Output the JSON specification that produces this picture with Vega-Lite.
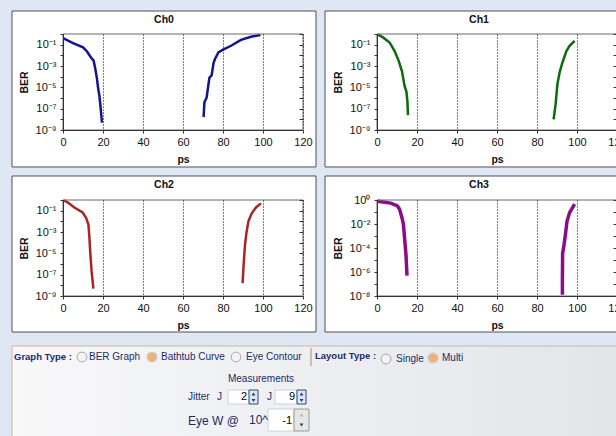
{
  "$schema": "https://vega.github.io/schema/vega-lite/v6.json",
  "background": "#dee7f3",
  "padding": {"left": 11, "top": 10, "right": 0, "bottom": 0},
  "datasets": {
    "curves": [
      {"ch":"Ch0","side":"L","i":1,"ps":0.3,"ber":0.39},
      {"ch":"Ch0","side":"L","i":2,"ps":5,"ber":0.14},
      {"ch":"Ch0","side":"L","i":3,"ps":10,"ber":0.056},
      {"ch":"Ch0","side":"L","i":4,"ps":12,"ber":0.023},
      {"ch":"Ch0","side":"L","i":5,"ps":14,"ber":0.0063},
      {"ch":"Ch0","side":"L","i":6,"ps":15.3,"ber":0.0032},
      {"ch":"Ch0","side":"L","i":7,"ps":16.2,"ber":0.0005},
      {"ch":"Ch0","side":"L","i":8,"ps":17,"ber":6.3e-5},
      {"ch":"Ch0","side":"L","i":9,"ps":17.5,"ber":1e-5},
      {"ch":"Ch0","side":"L","i":10,"ps":18.2,"ber":1.6e-6},
      {"ch":"Ch0","side":"L","i":11,"ps":18.8,"ber":1.3e-7},
      {"ch":"Ch0","side":"L","i":12,"ps":19.5,"ber":5e-9},
      {"ch":"Ch0","side":"R","i":1,"ps":70.3,"ber":1.6e-8},
      {"ch":"Ch0","side":"R","i":2,"ps":70.7,"ber":4e-7},
      {"ch":"Ch0","side":"R","i":3,"ps":71.8,"ber":1.1e-6},
      {"ch":"Ch0","side":"R","i":4,"ps":73.2,"ber":7.9e-5},
      {"ch":"Ch0","side":"R","i":5,"ps":74.3,"ber":0.00013},
      {"ch":"Ch0","side":"R","i":6,"ps":75.3,"ber":0.002},
      {"ch":"Ch0","side":"R","i":7,"ps":76,"ber":0.0045},
      {"ch":"Ch0","side":"R","i":8,"ps":77.7,"ber":0.019},
      {"ch":"Ch0","side":"R","i":9,"ps":79.8,"ber":0.032},
      {"ch":"Ch0","side":"R","i":10,"ps":84,"ber":0.079},
      {"ch":"Ch0","side":"R","i":11,"ps":89,"ber":0.28},
      {"ch":"Ch0","side":"R","i":12,"ps":94,"ber":0.56},
      {"ch":"Ch0","side":"R","i":13,"ps":98.7,"ber":0.79},
      {"ch":"Ch1","side":"L","i":1,"ps":0.5,"ber":0.87},
      {"ch":"Ch1","side":"L","i":2,"ps":3,"ber":0.48},
      {"ch":"Ch1","side":"L","i":3,"ps":6.3,"ber":0.16},
      {"ch":"Ch1","side":"L","i":4,"ps":8.8,"ber":0.025},
      {"ch":"Ch1","side":"L","i":5,"ps":10.8,"ber":0.0032},
      {"ch":"Ch1","side":"L","i":6,"ps":12.5,"ber":0.00032},
      {"ch":"Ch1","side":"L","i":7,"ps":13.8,"ber":1.3e-5},
      {"ch":"Ch1","side":"L","i":8,"ps":14.7,"ber":4e-6},
      {"ch":"Ch1","side":"L","i":9,"ps":15.2,"ber":5e-7},
      {"ch":"Ch1","side":"L","i":10,"ps":15.5,"ber":2.5e-8},
      {"ch":"Ch1","side":"R","i":1,"ps":88.3,"ber":1e-8},
      {"ch":"Ch1","side":"R","i":2,"ps":89.3,"ber":2.5e-7},
      {"ch":"Ch1","side":"R","i":3,"ps":90.2,"ber":2e-5},
      {"ch":"Ch1","side":"R","i":4,"ps":91.3,"ber":0.00025},
      {"ch":"Ch1","side":"R","i":5,"ps":92.5,"ber":0.0016},
      {"ch":"Ch1","side":"R","i":6,"ps":94.7,"ber":0.025},
      {"ch":"Ch1","side":"R","i":7,"ps":96.3,"ber":0.079},
      {"ch":"Ch1","side":"R","i":8,"ps":98.8,"ber":0.23},
      {"ch":"Ch2","side":"L","i":1,"ps":0.3,"ber":0.95},
      {"ch":"Ch2","side":"L","i":2,"ps":2.3,"ber":0.6},
      {"ch":"Ch2","side":"L","i":3,"ps":5.7,"ber":0.2},
      {"ch":"Ch2","side":"L","i":4,"ps":9.8,"ber":0.068},
      {"ch":"Ch2","side":"L","i":5,"ps":11.5,"ber":0.022},
      {"ch":"Ch2","side":"L","i":6,"ps":12.7,"ber":0.005},
      {"ch":"Ch2","side":"L","i":7,"ps":13.2,"ber":0.00032},
      {"ch":"Ch2","side":"L","i":8,"ps":13.7,"ber":7.9e-6},
      {"ch":"Ch2","side":"L","i":9,"ps":14.3,"ber":2e-7},
      {"ch":"Ch2","side":"L","i":10,"ps":15.2,"ber":5e-9},
      {"ch":"Ch2","side":"R","i":1,"ps":89.8,"ber":1.6e-8},
      {"ch":"Ch2","side":"R","i":2,"ps":90.3,"ber":7.9e-7},
      {"ch":"Ch2","side":"R","i":3,"ps":91,"ber":6.3e-5},
      {"ch":"Ch2","side":"R","i":4,"ps":91.7,"ber":0.00079},
      {"ch":"Ch2","side":"R","i":5,"ps":92.7,"ber":0.01},
      {"ch":"Ch2","side":"R","i":6,"ps":94.3,"ber":0.054},
      {"ch":"Ch2","side":"R","i":7,"ps":96.5,"ber":0.2},
      {"ch":"Ch2","side":"R","i":8,"ps":99,"ber":0.48},
      {"ch":"Ch3","side":"L","i":1,"ps":0.5,"ber":0.8},
      {"ch":"Ch3","side":"L","i":2,"ps":4.7,"ber":0.63},
      {"ch":"Ch3","side":"L","i":3,"ps":7.2,"ber":0.52},
      {"ch":"Ch3","side":"L","i":4,"ps":10.2,"ber":0.32},
      {"ch":"Ch3","side":"L","i":5,"ps":11.3,"ber":0.17},
      {"ch":"Ch3","side":"L","i":6,"ps":12.5,"ber":0.032},
      {"ch":"Ch3","side":"L","i":7,"ps":13.2,"ber":0.01},
      {"ch":"Ch3","side":"L","i":8,"ps":13.8,"ber":0.00063},
      {"ch":"Ch3","side":"L","i":9,"ps":14.5,"ber":2.5e-5},
      {"ch":"Ch3","side":"L","i":10,"ps":15,"ber":5e-7},
      {"ch":"Ch3","side":"R","i":1,"ps":92.7,"ber":1.3e-8},
      {"ch":"Ch3","side":"R","i":2,"ps":92.7,"ber":1.3e-7},
      {"ch":"Ch3","side":"R","i":3,"ps":92.8,"ber":3.5e-5},
      {"ch":"Ch3","side":"R","i":4,"ps":93.5,"ber":0.00018},
      {"ch":"Ch3","side":"R","i":5,"ps":94.2,"ber":0.0013},
      {"ch":"Ch3","side":"R","i":6,"ps":95,"ber":0.017},
      {"ch":"Ch3","side":"R","i":7,"ps":96.3,"ber":0.089},
      {"ch":"Ch3","side":"R","i":8,"ps":98.8,"ber":0.46}
    ],
    "boxes": [
      {"ch":"Ch0","ps":-25.5,"ps2":126.5,"ber":143,"ber2":3.4e-13},
      {"ch":"Ch1","ps":-26,"ps2":140,"ber":143,"ber2":3.4e-13},
      {"ch":"Ch2","ps":-25.5,"ps2":126.5,"ber":178,"ber2":4.2e-13},
      {"ch":"Ch3","ps":-26,"ps2":140,"ber":100,"ber2":1e-11}
    ],
    "frames": [
      {"ch":"Ch0","ps":0,"ps2":120,"ber":1e-9,"ber2":1},
      {"ch":"Ch1","ps":0,"ps2":120,"ber":1e-9,"ber2":1},
      {"ch":"Ch2","ps":0,"ps2":120,"ber":1e-9,"ber2":1},
      {"ch":"Ch3","ps":0,"ps2":120,"ber":1e-8,"ber2":1}
    ],
    "ui": [
      {"kind":"panel","x":11,"x2":640,"y":343,"y2":445},
      {"kind":"box","x":227,"x2":248,"y":387,"y2":401},
      {"kind":"box","x":274,"x2":296,"y":387,"y2":401},
      {"kind":"box","x":267,"x2":293,"y":406,"y2":428},
      {"kind":"spin","x":248,"x2":257,"y":387,"y2":401},
      {"kind":"spin","x":296,"x2":305,"y":387,"y2":401},
      {"kind":"spinoff","x":293,"x2":308,"y":406,"y2":428},
      {"kind":"up","x":252.5,"y":391},
      {"kind":"up","x":300.5,"y":391},
      {"kind":"down","x":252.5,"y":397.5},
      {"kind":"down","x":300.5,"y":397.5},
      {"kind":"upoff","x":300.5,"y":412},
      {"kind":"down","x":300.5,"y":422},
      {"kind":"sep","x":310,"y":345,"y2":363},
      {"kind":"radio","x":81,"y":354},
      {"kind":"radio","x":235,"y":354},
      {"kind":"radio","x":385,"y":356},
      {"kind":"radioon","x":151,"y":354},
      {"kind":"radioon","x":432,"y":355},
      {"kind":"bold","x":13,"y":354,"text":"Graph Type :"},
      {"kind":"bold","x":314,"y":353,"text":"Layout Type :"},
      {"kind":"label","x":88,"y":354,"text":"BER Graph"},
      {"kind":"label","x":160,"y":354,"text":"Bathtub Curve"},
      {"kind":"label","x":245,"y":354,"text":"Eye Contour"},
      {"kind":"label","x":395,"y":356,"text":"Single"},
      {"kind":"label","x":441,"y":355,"text":"Multi"},
      {"kind":"label","x":187,"y":394,"text":"Jitter"},
      {"kind":"label","x":216,"y":394,"text":"J"},
      {"kind":"label","x":266,"y":394,"text":"J"},
      {"kind":"center","x":260,"y":376,"text":"Measurements"},
      {"kind":"big","x":187,"y":418,"text":"Eye W @"},
      {"kind":"big","x":248,"y":417,"text":"10^"},
      {"kind":"value","x":246,"y":394,"text":"2"},
      {"kind":"value","x":294,"y":394,"text":"9"},
      {"kind":"value","x":291,"y":418,"text":"-1"}
    ]
  },
  "spacing": 12,
  "vconcat": [
    {
      "columns": 2,
      "bounds": "flush",
      "spacing": {"row": 70, "column": 74},
      "concat": [
        {
          "width": 240, "height": 96,
          "title": {"text": "Ch0", "dx": -19},
          "resolve": {"axis": {"y": "independent"}},
          "layer": [
            {"data": {"name": "boxes"}, "transform": [{"filter": "datum.ch == 'Ch0'"}],
             "mark": {"type": "rect", "fill": "#ffffff", "stroke": "#505050", "strokeWidth": 1},
             "encoding": {
               "x": {"field": "ps", "type": "quantitative", "scale": {"domain": [0, 120], "nice": false, "zero": false},
                     "axis": {"title": "ps", "zindex": 1, "values": [0,20,40,60,80,100,120], "labelOverlap": false, "grid": true, "gridDash": [1,2], "gridColor": "#000", "gridOpacity": 1, "tickSize": 3, "labelPadding": 3, "titlePadding": 7, "labelFlush": false}},
               "x2": {"field": "ps2"},
               "y": {"field": "ber", "type": "quantitative", "scale": {"type": "log", "domain": [1e-9, 1], "nice": false},
                     "axis": {"title": "BER", "zindex": 1, "values": [1e-9,1e-8,1e-7,1e-6,1e-5,1e-4,1e-3,1e-2,1e-1,1], "labelOverlap": false, "grid": false, "tickSize": 3, "labelPadding": 4, "titlePadding": 6,
                              "labelExpr": "abs(round(log(datum.value)/LN10)) % 2 == 1 ? '10' + (round(log(datum.value)/LN10) < 0 ? '⁻' : '') + ['⁰','¹','²','³','⁴','⁵','⁶','⁷','⁸','⁹'][abs(round(log(datum.value)/LN10))] : ''"}},
               "y2": {"field": "ber2"}}},
            {"data": {"name": "curves"}, "transform": [{"filter": "datum.ch == 'Ch0'"}],
             "mark": {"type": "line", "color": "#14148c", "strokeWidth": 2.5},
             "encoding": {
               "x": {"field": "ps", "type": "quantitative", "scale": {"domain": [0, 120], "nice": false, "zero": false},
                     "axis": {"title": "ps", "zindex": 1, "values": [0,20,40,60,80,100,120], "labelOverlap": false, "grid": true, "gridDash": [1,2], "gridColor": "#000", "gridOpacity": 1, "tickSize": 3, "labelPadding": 3, "titlePadding": 7, "labelFlush": false}},
               "y": {"field": "ber", "type": "quantitative", "axis": null},
               "detail": {"field": "side"}, "order": {"field": "i", "type": "quantitative"}}},
            {"data": {"name": "frames"}, "transform": [{"filter": "datum.ch == 'Ch0'"}],
             "mark": {"type": "rect", "filled": false, "stroke": "#6a6a6a", "strokeWidth": 1},
             "encoding": {
               "x": {"field": "ps", "type": "quantitative", "scale": {"domain": [0, 120], "nice": false, "zero": false},
                     "axis": {"title": "ps", "zindex": 1, "values": [0,20,40,60,80,100,120], "labelOverlap": false, "grid": true, "gridDash": [1,2], "gridColor": "#000", "gridOpacity": 1, "tickSize": 3, "labelPadding": 3, "titlePadding": 7, "labelFlush": false}},
               "x2": {"field": "ps2"},
               "y": {"field": "ber", "type": "quantitative", "axis": {"orient": "right", "zindex": 1, "title": null, "labels": false, "domain": false, "grid": false, "tickSize": -4, "values": [1e-9,1e-8,1e-7,1e-6,1e-5,1e-4,1e-3,1e-2,1e-1,1]}},
               "y2": {"field": "ber2"}}}
          ]
        },
        {
          "width": 240, "height": 96,
          "title": {"text": "Ch1", "dx": -18},
          "resolve": {"axis": {"y": "independent"}},
          "layer": [
            {"data": {"name": "boxes"}, "transform": [{"filter": "datum.ch == 'Ch1'"}],
             "mark": {"type": "rect", "fill": "#ffffff", "stroke": "#505050", "strokeWidth": 1},
             "encoding": {
               "x": {"field": "ps", "type": "quantitative", "scale": {"domain": [0, 120], "nice": false, "zero": false},
                     "axis": {"title": "ps", "zindex": 1, "values": [0,20,40,60,80,100,120], "labelOverlap": false, "grid": true, "gridDash": [1,2], "gridColor": "#000", "gridOpacity": 1, "tickSize": 3, "labelPadding": 3, "titlePadding": 7, "labelFlush": false}},
               "x2": {"field": "ps2"},
               "y": {"field": "ber", "type": "quantitative", "scale": {"type": "log", "domain": [1e-9, 1], "nice": false},
                     "axis": {"title": "BER", "zindex": 1, "values": [1e-9,1e-8,1e-7,1e-6,1e-5,1e-4,1e-3,1e-2,1e-1,1], "labelOverlap": false, "grid": false, "tickSize": 3, "labelPadding": 4, "titlePadding": 6,
                              "labelExpr": "abs(round(log(datum.value)/LN10)) % 2 == 1 ? '10' + (round(log(datum.value)/LN10) < 0 ? '⁻' : '') + ['⁰','¹','²','³','⁴','⁵','⁶','⁷','⁸','⁹'][abs(round(log(datum.value)/LN10))] : ''"}},
               "y2": {"field": "ber2"}}},
            {"data": {"name": "curves"}, "transform": [{"filter": "datum.ch == 'Ch1'"}],
             "mark": {"type": "line", "color": "#0d6b0d", "strokeWidth": 2.5},
             "encoding": {
               "x": {"field": "ps", "type": "quantitative", "scale": {"domain": [0, 120], "nice": false, "zero": false},
                     "axis": {"title": "ps", "zindex": 1, "values": [0,20,40,60,80,100,120], "labelOverlap": false, "grid": true, "gridDash": [1,2], "gridColor": "#000", "gridOpacity": 1, "tickSize": 3, "labelPadding": 3, "titlePadding": 7, "labelFlush": false}},
               "y": {"field": "ber", "type": "quantitative", "axis": null},
               "detail": {"field": "side"}, "order": {"field": "i", "type": "quantitative"}}},
            {"data": {"name": "frames"}, "transform": [{"filter": "datum.ch == 'Ch1'"}],
             "mark": {"type": "rect", "filled": false, "stroke": "#6a6a6a", "strokeWidth": 1},
             "encoding": {
               "x": {"field": "ps", "type": "quantitative", "scale": {"domain": [0, 120], "nice": false, "zero": false},
                     "axis": {"title": "ps", "zindex": 1, "values": [0,20,40,60,80,100,120], "labelOverlap": false, "grid": true, "gridDash": [1,2], "gridColor": "#000", "gridOpacity": 1, "tickSize": 3, "labelPadding": 3, "titlePadding": 7, "labelFlush": false}},
               "x2": {"field": "ps2"},
               "y": {"field": "ber", "type": "quantitative", "axis": {"orient": "right", "zindex": 1, "title": null, "labels": false, "domain": false, "grid": false, "tickSize": -4, "values": [1e-9,1e-8,1e-7,1e-6,1e-5,1e-4,1e-3,1e-2,1e-1,1]}},
               "y2": {"field": "ber2"}}}
          ]
        },
        {
          "width": 240, "height": 96,
          "title": {"text": "Ch2", "dx": -19},
          "resolve": {"axis": {"y": "independent"}},
          "layer": [
            {"data": {"name": "boxes"}, "transform": [{"filter": "datum.ch == 'Ch2'"}],
             "mark": {"type": "rect", "fill": "#ffffff", "stroke": "#505050", "strokeWidth": 1},
             "encoding": {
               "x": {"field": "ps", "type": "quantitative", "scale": {"domain": [0, 120], "nice": false, "zero": false},
                     "axis": {"title": "ps", "zindex": 1, "values": [0,20,40,60,80,100,120], "labelOverlap": false, "grid": true, "gridDash": [1,2], "gridColor": "#000", "gridOpacity": 1, "tickSize": 3, "labelPadding": 3, "titlePadding": 7, "labelFlush": false}},
               "x2": {"field": "ps2"},
               "y": {"field": "ber", "type": "quantitative", "scale": {"type": "log", "domain": [1e-9, 1], "nice": false},
                     "axis": {"title": "BER", "zindex": 1, "values": [1e-9,1e-8,1e-7,1e-6,1e-5,1e-4,1e-3,1e-2,1e-1,1], "labelOverlap": false, "grid": false, "tickSize": 3, "labelPadding": 4, "titlePadding": 6,
                              "labelExpr": "abs(round(log(datum.value)/LN10)) % 2 == 1 ? '10' + (round(log(datum.value)/LN10) < 0 ? '⁻' : '') + ['⁰','¹','²','³','⁴','⁵','⁶','⁷','⁸','⁹'][abs(round(log(datum.value)/LN10))] : ''"}},
               "y2": {"field": "ber2"}}},
            {"data": {"name": "curves"}, "transform": [{"filter": "datum.ch == 'Ch2'"}],
             "mark": {"type": "line", "color": "#ab2424", "strokeWidth": 2.5},
             "encoding": {
               "x": {"field": "ps", "type": "quantitative", "scale": {"domain": [0, 120], "nice": false, "zero": false},
                     "axis": {"title": "ps", "zindex": 1, "values": [0,20,40,60,80,100,120], "labelOverlap": false, "grid": true, "gridDash": [1,2], "gridColor": "#000", "gridOpacity": 1, "tickSize": 3, "labelPadding": 3, "titlePadding": 7, "labelFlush": false}},
               "y": {"field": "ber", "type": "quantitative", "axis": null},
               "detail": {"field": "side"}, "order": {"field": "i", "type": "quantitative"}}},
            {"data": {"name": "frames"}, "transform": [{"filter": "datum.ch == 'Ch2'"}],
             "mark": {"type": "rect", "filled": false, "stroke": "#6a6a6a", "strokeWidth": 1},
             "encoding": {
               "x": {"field": "ps", "type": "quantitative", "scale": {"domain": [0, 120], "nice": false, "zero": false},
                     "axis": {"title": "ps", "zindex": 1, "values": [0,20,40,60,80,100,120], "labelOverlap": false, "grid": true, "gridDash": [1,2], "gridColor": "#000", "gridOpacity": 1, "tickSize": 3, "labelPadding": 3, "titlePadding": 7, "labelFlush": false}},
               "x2": {"field": "ps2"},
               "y": {"field": "ber", "type": "quantitative", "axis": {"orient": "right", "zindex": 1, "title": null, "labels": false, "domain": false, "grid": false, "tickSize": -4, "values": [1e-9,1e-8,1e-7,1e-6,1e-5,1e-4,1e-3,1e-2,1e-1,1]}},
               "y2": {"field": "ber2"}}}
          ]
        },
        {
          "width": 240, "height": 96,
          "title": {"text": "Ch3", "dx": -18},
          "resolve": {"axis": {"y": "independent"}},
          "layer": [
            {"data": {"name": "boxes"}, "transform": [{"filter": "datum.ch == 'Ch3'"}],
             "mark": {"type": "rect", "fill": "#ffffff", "stroke": "#505050", "strokeWidth": 1},
             "encoding": {
               "x": {"field": "ps", "type": "quantitative", "scale": {"domain": [0, 120], "nice": false, "zero": false},
                     "axis": {"title": "ps", "zindex": 1, "values": [0,20,40,60,80,100,120], "labelOverlap": false, "grid": true, "gridDash": [1,2], "gridColor": "#000", "gridOpacity": 1, "tickSize": 3, "labelPadding": 3, "titlePadding": 7, "labelFlush": false}},
               "x2": {"field": "ps2"},
               "y": {"field": "ber", "type": "quantitative", "scale": {"type": "log", "domain": [1e-8, 1], "nice": false},
                     "axis": {"title": "BER", "zindex": 1, "values": [1e-8,1e-7,1e-6,1e-5,1e-4,1e-3,1e-2,1e-1,1], "labelOverlap": false, "grid": false, "tickSize": 3, "labelPadding": 4, "titlePadding": 6,
                              "labelExpr": "abs(round(log(datum.value)/LN10)) % 2 == 0 ? '10' + (round(log(datum.value)/LN10) < 0 ? '⁻' : '') + ['⁰','¹','²','³','⁴','⁵','⁶','⁷','⁸','⁹'][abs(round(log(datum.value)/LN10))] : ''"}},
               "y2": {"field": "ber2"}}},
            {"data": {"name": "curves"}, "transform": [{"filter": "datum.ch == 'Ch3'"}],
             "mark": {"type": "line", "color": "#8a0c8a", "strokeWidth": 3.5},
             "encoding": {
               "x": {"field": "ps", "type": "quantitative", "scale": {"domain": [0, 120], "nice": false, "zero": false},
                     "axis": {"title": "ps", "zindex": 1, "values": [0,20,40,60,80,100,120], "labelOverlap": false, "grid": true, "gridDash": [1,2], "gridColor": "#000", "gridOpacity": 1, "tickSize": 3, "labelPadding": 3, "titlePadding": 7, "labelFlush": false}},
               "y": {"field": "ber", "type": "quantitative", "axis": null},
               "detail": {"field": "side"}, "order": {"field": "i", "type": "quantitative"}}},
            {"data": {"name": "frames"}, "transform": [{"filter": "datum.ch == 'Ch3'"}],
             "mark": {"type": "rect", "filled": false, "stroke": "#6a6a6a", "strokeWidth": 1},
             "encoding": {
               "x": {"field": "ps", "type": "quantitative", "scale": {"domain": [0, 120], "nice": false, "zero": false},
                     "axis": {"title": "ps", "zindex": 1, "values": [0,20,40,60,80,100,120], "labelOverlap": false, "grid": true, "gridDash": [1,2], "gridColor": "#000", "gridOpacity": 1, "tickSize": 3, "labelPadding": 3, "titlePadding": 7, "labelFlush": false}},
               "x2": {"field": "ps2"},
               "y": {"field": "ber", "type": "quantitative", "axis": {"orient": "right", "zindex": 1, "title": null, "labels": false, "domain": false, "grid": false, "tickSize": -4, "values": [1e-8,1e-7,1e-6,1e-5,1e-4,1e-3,1e-2,1e-1,1]}},
               "y2": {"field": "ber2"}}}
          ]
        }
      ]
    },
    {
      "width": 554, "height": 95,
      "data": {"name": "ui"},
      "encoding": {
        "x": {"field": "x", "type": "quantitative", "scale": {"domain": [62, 616], "nice": false, "zero": false}, "axis": null},
        "y": {"field": "y", "type": "quantitative", "scale": {"domain": [343, 438], "nice": false, "zero": false, "reverse": true}, "axis": null}
      },
      "layer": [
        {"transform": [{"filter": "datum.kind == 'panel'"}],
         "mark": {"type": "rect", "stroke": "#cbb69e", "strokeWidth": 1,
                  "fill": {"gradient": "linear", "x1": 0, "y1": 0, "x2": 1, "y2": 0, "stops": [{"offset": 0, "color": "#f8f8f9"}, {"offset": 1, "color": "#e2e4e8"}]}},
         "encoding": {"x2": {"field": "x2"}, "y2": {"field": "y2"}}},
        {"transform": [{"filter": "datum.kind == 'box'"}], "mark": {"type": "rect", "fill": "#ffffff", "stroke": "#cdd2da", "strokeWidth": 1},
         "encoding": {"x2": {"field": "x2"}, "y2": {"field": "y2"}}},
        {"transform": [{"filter": "datum.kind == 'spin'"}], "mark": {"type": "rect", "fill": "#dde5f0", "stroke": "#2c4c80", "strokeWidth": 1},
         "encoding": {"x2": {"field": "x2"}, "y2": {"field": "y2"}}},
        {"transform": [{"filter": "datum.kind == 'spinoff'"}], "mark": {"type": "rect", "fill": "#e6e6e6", "stroke": "#9a9a9a", "strokeWidth": 1},
         "encoding": {"x2": {"field": "x2"}, "y2": {"field": "y2"}}},
        {"transform": [{"filter": "datum.kind == 'up'"}], "mark": {"type": "point", "shape": "triangle-up", "size": 14, "filled": true, "color": "#1e3a6e", "opacity": 1}},
        {"transform": [{"filter": "datum.kind == 'down'"}], "mark": {"type": "point", "shape": "triangle-down", "size": 14, "filled": true, "color": "#1e3a6e", "opacity": 1}},
        {"transform": [{"filter": "datum.kind == 'upoff'"}], "mark": {"type": "point", "shape": "triangle-up", "size": 14, "filled": true, "color": "#b0b0b0", "opacity": 1}},
        {"transform": [{"filter": "datum.kind == 'sep'"}], "mark": {"type": "rule", "color": "#b98a5e", "strokeWidth": 1},
         "encoding": {"y2": {"field": "y2"}}},
        {"transform": [{"filter": "datum.kind == 'radio'"}], "mark": {"type": "point", "shape": "circle", "size": 95, "filled": true, "fill": "#f3f4f6", "stroke": "#a3a9b3", "strokeWidth": 1, "opacity": 1}},
        {"transform": [{"filter": "datum.kind == 'radioon'"}], "mark": {"type": "point", "shape": "circle", "size": 95, "filled": true, "fill": "#f5b071", "stroke": "#c8ccd3", "strokeWidth": 1.5, "opacity": 1}},
        {"transform": [{"filter": "datum.kind == 'bold'"}], "mark": {"type": "text", "align": "left", "baseline": "middle", "fontSize": 9.5, "fontWeight": "bold", "color": "#1b2b6e", "font": "Liberation Sans"},
         "encoding": {"text": {"field": "text"}}},
        {"transform": [{"filter": "datum.kind == 'label'"}], "mark": {"type": "text", "align": "left", "baseline": "middle", "fontSize": 10, "color": "#1b2b6e", "font": "Liberation Sans"},
         "encoding": {"text": {"field": "text"}}},
        {"transform": [{"filter": "datum.kind == 'center'"}], "mark": {"type": "text", "align": "center", "baseline": "middle", "fontSize": 10, "color": "#1b2b6e", "font": "Liberation Sans"},
         "encoding": {"text": {"field": "text"}}},
        {"transform": [{"filter": "datum.kind == 'big'"}], "mark": {"type": "text", "align": "left", "baseline": "middle", "fontSize": 12, "color": "#1b2b6e", "font": "Liberation Sans"},
         "encoding": {"text": {"field": "text"}}},
        {"transform": [{"filter": "datum.kind == 'value'"}], "mark": {"type": "text", "align": "right", "baseline": "middle", "fontSize": 11, "color": "#000000", "font": "Liberation Sans"},
         "encoding": {"text": {"field": "text"}}}
      ]
    }
  ],
  "config": {
    "view": {"stroke": null},
    "font": "Liberation Sans",
    "axis": {"labelFont": "Liberation Sans", "titleFont": "Liberation Sans", "labelFontSize": 11, "titleFontSize": 10.5, "titleFontWeight": "bold", "labelColor": "#111111", "titleColor": "#111111", "domainColor": "#333333", "tickColor": "#333333"},
    "title": {"font": "Liberation Sans", "fontSize": 10.5, "fontWeight": "bold", "color": "#111111", "frame": "group", "offset": -15, "anchor": "middle"}
  }
}
